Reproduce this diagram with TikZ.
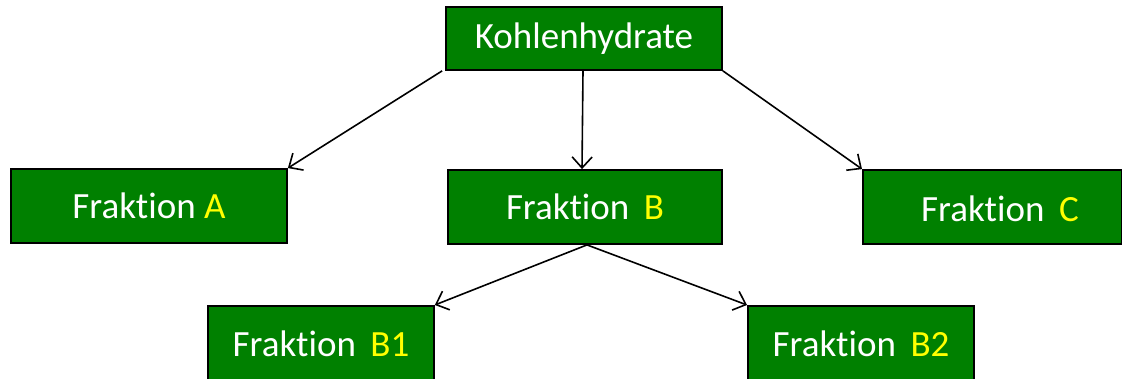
\documentclass[tikz,border=0pt]{standalone}
\usepackage{fontspec}
\setmainfont{Carlito}[RawFeature=-liga]
\usetikzlibrary{arrows.meta}
\definecolor{boxgreen}{RGB}{0,128,0}
\definecolor{hl}{RGB}{255,255,0}
\begin{document}
\begin{tikzpicture}[x=1pt,y=-1pt,
  txt/.style={font=\fontsize{37}{44}\selectfont,text=white},
  box/.style={draw=black,line width=1.8pt,fill=boxgreen,txt,inner sep=0pt},
  conn/.style={-{Straight Barb[length=11pt,width=20pt]},line width=1.6pt}]
\useasboundingbox (0,0) rectangle (1122,379);
\node[box,minimum width=276pt,minimum height=63pt] (K) at (584,38.5) {\raisebox{-3pt}{Kohlenhydrate}};
\node[box,minimum width=276pt,minimum height=74pt] (A) at (149,206) {\raisebox{-3pt}{Fraktion \textcolor{hl}{A}}};
\node[box,minimum width=274pt,minimum height=74pt] (B) at (585,207) {\raisebox{-3pt}{Fraktion\, \textcolor{hl}{B}}};
\node[box,minimum width=259pt,minimum height=74pt,anchor=west] (C) at (862,207) {};
\node[txt] (Ct) at (1000,209) {Fraktion\, \textcolor{hl}{C}};
\node[box,minimum width=226pt,minimum height=90pt,anchor=north west] (B1) at (207,305) {};
\node[txt] (B1t) at (321,344) {Fraktion\, \textcolor{hl}{B1}};
\node[box,minimum width=226pt,minimum height=90pt,anchor=north west] (B2) at (747,305) {};
\node[txt] (B2t) at (861,344) {Fraktion\, \textcolor{hl}{B2}};
\draw[conn] ([xshift=-3pt]K.south west) -- (A.north east);
\draw[conn] ([xshift=-1pt]K.south) -- ([xshift=-3pt]B.north);
\draw[conn] (K.south east) -- (C.north west);
\draw[conn] ([xshift=2pt]B.south) -- (B1.north east);
\draw[conn] ([xshift=2pt]B.south) -- (B2.north west);
\end{tikzpicture}
\end{document}
